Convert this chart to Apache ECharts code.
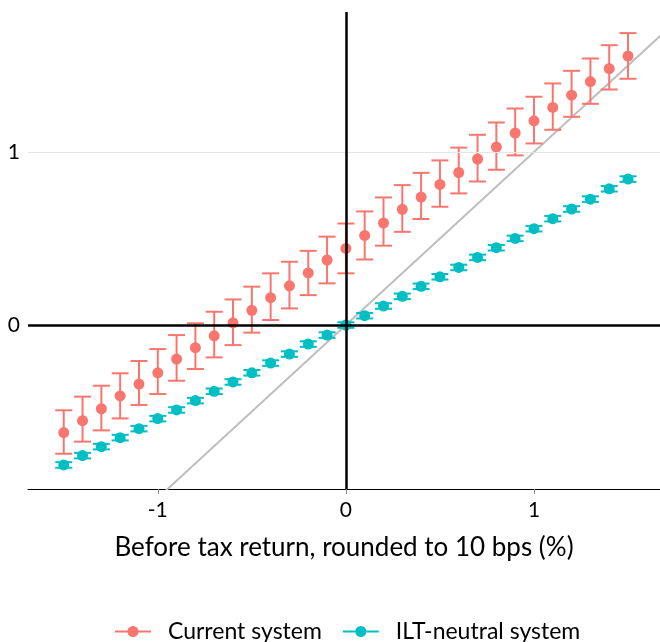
<!DOCTYPE html>
<html>
<head>
<meta charset="utf-8">
<script src="https://cdn.jsdelivr.net/npm/echarts@6/dist/echarts.min.js"></script>
<style>
    html, body { margin: 0; padding: 0; background: #fff; }
    #chart { width: 660px; height: 642px; }
</style>
</head>
<body>
<div id="chart"></div>
<script>
    // before tax return buckets (%)
    var xValues = [-1.5, -1.4, -1.3, -1.2, -1.1, -1.0, -0.9, -0.8, -0.7, -0.6, -0.5, -0.4, -0.3, -0.2, -0.1,
        0.0, 0.1, 0.2, 0.3, 0.4, 0.5, 0.6, 0.7, 0.8, 0.9, 1.0, 1.1, 1.2, 1.3, 1.4, 1.5];

    // current system: estimate + interval
    var currentMid = [-0.622, -0.553, -0.484, -0.410, -0.341, -0.276, -0.197, -0.131, -0.062, 0.013, 0.085, 0.158, 0.227, 0.301, 0.376,
        0.443, 0.518, 0.590, 0.669, 0.740, 0.813, 0.882, 0.960, 1.029, 1.110, 1.181, 1.258, 1.329, 1.408, 1.483, 1.555];
    var currentLow = [-0.744, -0.674, -0.609, -0.540, -0.462, -0.399, -0.322, -0.254, -0.187, -0.116, -0.044, 0.029, 0.096, 0.173, 0.241,
        0.299, 0.379, 0.459, 0.539, 0.613, 0.684, 0.761, 0.830, 0.898, 0.981, 1.050, 1.129, 1.204, 1.279, 1.362, 1.424];
    var currentHigh = [-0.493, -0.414, -0.351, -0.279, -0.208, -0.139, -0.058, 0.010, 0.077, 0.148, 0.222, 0.299, 0.366, 0.429, 0.511,
        0.587, 0.657, 0.738, 0.809, 0.880, 0.952, 1.026, 1.100, 1.171, 1.252, 1.320, 1.397, 1.470, 1.541, 1.618, 1.688];

    // ILT-neutral system
    var neutralMid = [-0.809, -0.755, -0.703, -0.651, -0.599, -0.541, -0.491, -0.437, -0.383, -0.329, -0.276, -0.220, -0.168, -0.110, -0.058,
        0.000, 0.054, 0.110, 0.166, 0.224, 0.279, 0.333, 0.391, 0.447, 0.501, 0.557, 0.615, 0.671, 0.728, 0.788, 0.844];
    var neutralLow = [-0.825, -0.771, -0.719, -0.667, -0.615, -0.557, -0.507, -0.453, -0.399, -0.345, -0.292, -0.236, -0.184, -0.126, -0.074,
        -0.016, 0.038, 0.094, 0.150, 0.208, 0.263, 0.317, 0.375, 0.431, 0.485, 0.541, 0.599, 0.655, 0.712, 0.772, 0.828];
    var neutralHigh = [-0.793, -0.739, -0.687, -0.635, -0.583, -0.525, -0.475, -0.421, -0.367, -0.313, -0.260, -0.204, -0.152, -0.094, -0.042,
        0.016, 0.070, 0.126, 0.182, 0.240, 0.295, 0.349, 0.407, 0.463, 0.517, 0.573, 0.631, 0.687, 0.744, 0.804, 0.860];

    var xTicks = [-1, 0, 1];
    var yTicks = [0, 1];
    var diagonal = [-2, 2];

    var RED = '#F8766D';
    var TEAL = '#00BFC4';
    var FONT = 'Lato';

    function pairs(ys) {
        var out = [];
        for (var i = 0; i < xValues.length; i++) out.push([xValues[i], ys[i]]);
        return out;
    }
    function ranges(lo, hi) {
        var out = [];
        for (var i = 0; i < xValues.length; i++) out.push([xValues[i], lo[i], hi[i]]);
        return out;
    }
    function errorBars(color) {
        return function (params, api) {
            var x = api.value(0);
            var pLo = api.coord([x, api.value(1)]);
            var pHi = api.coord([x, api.value(2)]);
            var w = 8.5;
            var st = { stroke: color, lineWidth: 2 };
            return {
                type: 'group',
                children: [
                    { type: 'line', shape: { x1: pLo[0], y1: pLo[1], x2: pHi[0], y2: pHi[1] }, style: st },
                    { type: 'line', shape: { x1: pLo[0] - w, y1: pLo[1], x2: pLo[0] + w, y2: pLo[1] }, style: st },
                    { type: 'line', shape: { x1: pHi[0] - w, y1: pHi[1], x2: pHi[0] + w, y2: pHi[1] }, style: st }
                ]
            };
        };
    }

    var legendIcon = 'path://M0,5 L36,5 L36,7 L0,7 Z M18,0.5 A5.5,5.5 0 1 1 17.99,0.5 Z';

    var myChart = echarts.init(document.getElementById('chart'));
    var option = {
        animation: false,
        backgroundColor: '#fff',
        textStyle: { fontFamily: FONT },
        grid: { left: 28, right: 0, top: 12, bottom: 153 },
        legend: {
            left: 110,
            top: 615,
            itemWidth: 36,
            itemHeight: 12,
            itemGap: 21,
            data: [
                { name: 'Current system', icon: legendIcon, itemStyle: { color: RED } },
                { name: 'ILT-neutral system', icon: legendIcon, itemStyle: { color: TEAL } }
            ],
            textStyle: { fontFamily: FONT, fontSize: 23, color: '#000', padding: [0, 0, 0, 12] }
        },
        xAxis: {
            type: 'value',
            min: -1.69,
            max: 1.67,
            name: 'Before tax return, rounded to 10 bps (%)',
            nameLocation: 'middle',
            nameGap: 46,
            nameTextStyle: { fontFamily: FONT, fontSize: 26, color: '#000' },
            axisLine: { onZero: false, lineStyle: { color: '#000', width: 1 } },
            axisTick: { customValues: xTicks, length: 5, lineStyle: { color: '#888' } },
            axisLabel: { customValues: xTicks, fontFamily: FONT, fontSize: 21, color: '#000', margin: 11 },
            splitLine: { show: false }
        },
        yAxis: {
            type: 'value',
            min: -0.948,
            max: 1.81,
            axisLine: { show: false },
            axisTick: { show: false },
            axisLabel: { customValues: yTicks, fontFamily: FONT, fontSize: 21, color: '#000', margin: 8 },
            splitLine: { show: false }
        },
        series: [
            {
                type: 'line',
                data: [],
                silent: true,
                z: 1,
                markLine: {
                    symbol: 'none',
                    silent: true,
                    label: { show: false },
                    data: [
                        { yAxis: 1, lineStyle: { color: '#e5e5e5', width: 1, type: 'solid' } },
                        { yAxis: 0, lineStyle: { color: '#000', width: 2.5, type: 'solid' } },
                        { xAxis: 0, lineStyle: { color: '#000', width: 2.5, type: 'solid' } }
                    ]
                }
            },
            {
                type: 'line',
                data: diagonal.map(function (v) { return [v, v]; }),
                symbol: 'none',
                silent: true,
                clip: true,
                z: 2,
                lineStyle: { color: '#BEBEBE', width: 2 }
            },
            {
                type: 'custom',
                renderItem: errorBars(RED),
                data: ranges(currentLow, currentHigh),
                encode: { x: 0, y: [1, 2] },
                z: 3
            },
            {
                type: 'custom',
                renderItem: errorBars(TEAL),
                data: ranges(neutralLow, neutralHigh),
                encode: { x: 0, y: [1, 2] },
                z: 3
            },
            {
                name: 'Current system',
                type: 'scatter',
                data: pairs(currentMid),
                symbolSize: 11,
                itemStyle: { color: RED, opacity: 1 },
                z: 4
            },
            {
                name: 'ILT-neutral system',
                type: 'scatter',
                data: pairs(neutralMid),
                symbolSize: 11,
                itemStyle: { color: TEAL, opacity: 1 },
                z: 4
            }
        ]
    };
    myChart.setOption(option);
</script>
</body>
</html>
